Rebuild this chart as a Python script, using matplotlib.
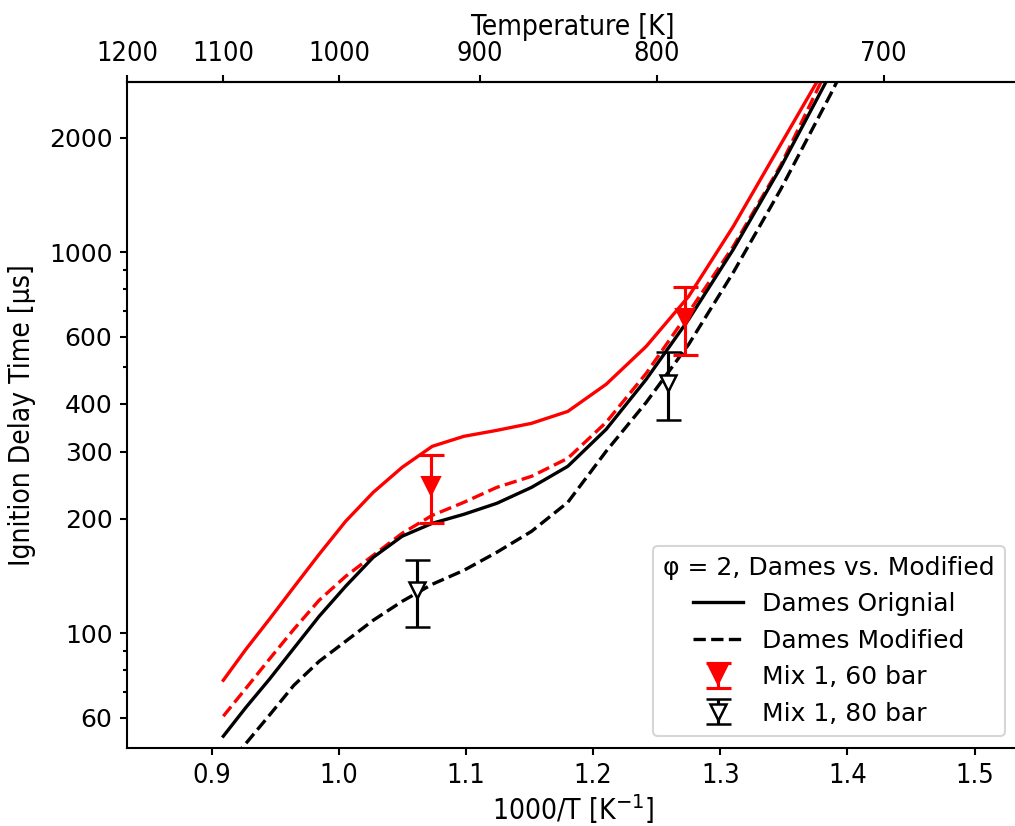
import matplotlib
matplotlib.use('Agg')
import matplotlib.pyplot as plt
from matplotlib import font_manager as fm
from matplotlib.lines import Line2D

# ---- data ----
temps_K = [1100.0, 1078.9, 1057.9, 1036.8, 1015.8, 994.7, 973.7, 952.6, 931.6, 910.5,
           889.5, 868.4, 847.4, 826.3, 805.3, 784.2, 763.2, 742.1, 721.1, 700.0]
dames_orig_60 = [75.3, 90.8, 108.8, 132.1, 161.2, 196.8, 234.4, 272.7, 309.6, 328.9,
                 341.0, 355.8, 382.4, 450.4, 566.6, 766.6, 1170, 1920, 3230, 5735]
dames_mod_60 = [60.6, 71.7, 85.5, 102.4, 122.1, 141.1, 160.2, 183.0, 204.0, 220.7,
                241.6, 258.3, 288.0, 357.9, 481.4, 695.8, 1037, 1692, 3153, 6166]
dames_orig_80 = [53.7, 63.9, 75.7, 91.3, 110.8, 132.9, 158.3, 179.8, 194.4, 205.3,
                 219.4, 241.6, 274.4, 343.0, 464.2, 667.1, 1018, 1671, 2950, 5399]
dames_mod_80 = [43.7, 51.4, 60.9, 73.0, 84.4, 95.3, 108.2, 121.3, 134.5, 146.3,
                163.2, 185.2, 220.7, 300.4, 403.9, 573.5, 886.0, 1463, 2598, 4931]

exp60_invT = [1.0728, 1.2720]
exp60_tau = [244, 674]
exp60_err = [49, 135]
exp80_invT = [1.0618, 1.2589]
exp80_tau = [130, 455]
exp80_err = [26, 91]

ytick_major = [60, 100, 200, 300, 400, 600, 1000, 2000]
ytick_minor = [70, 80, 90, 500, 700, 800, 900]
xtick_bottom = [0.9, 1.0, 1.1, 1.2, 1.3, 1.4, 1.5]
xtick_top = [1200, 1100, 1000, 900, 800, 700]

# ---- fonts ----
cond_path = None
for f in fm.fontManager.ttflist:
    base = f.fname.split('/')[-1]
    if base == 'DejaVuSansCondensed.ttf':
        cond_path = f.fname
        break
if cond_path:
    fp_tick = fm.FontProperties(fname=cond_path, size=13)
    fp_lab = fm.FontProperties(fname=cond_path, size=13.5)
else:
    fp_tick = fm.FontProperties(family='DejaVu Sans', stretch='condensed', size=13)
    fp_lab = fm.FontProperties(family='DejaVu Sans', stretch='condensed', size=13.5)

invT = [1000.0 / t for t in temps_K]

W, H = 1015, 826
fig = plt.figure(figsize=(W / 150, H / 150), dpi=150)
ax = fig.add_axes([127 / W, 1 - 748 / H, (1019 - 127) / W, (748 - 82) / H])

ax.plot(invT, dames_orig_60, color='red', lw=1.6)
ax.plot(invT, dames_mod_60, color='red', lw=1.6, ls='--')
ax.plot(invT, dames_orig_80, color='black', lw=1.6)
ax.plot(invT, dames_mod_80, color='black', lw=1.6, ls='--')

eb60 = ax.errorbar(exp60_invT, exp60_tau, yerr=exp60_err, fmt='v', color='red',
                   ms=8.5, capsize=6, elinewidth=1.5, capthick=1.5, zorder=5)
eb80 = ax.errorbar(exp80_invT, exp80_tau, yerr=exp80_err, fmt='v', color='black',
                   mfc='white', mec='black', ms=8, mew=1.2, capsize=6,
                   elinewidth=1.5, capthick=1.5, zorder=5)

ax.set_yscale('log')
ax.set_xlim(1000 / 1200, 1.535)
ax.set_ylim(50, 2800)

ax.set_yticks(ytick_major)
ax.set_yticklabels([str(v) for v in ytick_major], fontsize=12)
ax.set_yticks(ytick_minor, minor=True)
ax.set_yticklabels([''] * len(ytick_minor), minor=True)

ax.set_xticks(xtick_bottom)
ax.set_xticklabels(['%.1f' % v for v in xtick_bottom], fontproperties=fp_tick)

ax.set_xlabel('1000/T [K$^{-1}$]', fontproperties=fp_lab, labelpad=1.5)
ax.set_ylabel('Ignition Delay Time [\u03bcs]', fontproperties=fp_lab, labelpad=6)

for sp in ax.spines.values():
    sp.set_linewidth(1.0)
ax.tick_params(which='both', width=1.0)

secax = ax.secondary_xaxis('top', functions=(lambda x: 1000.0 / x, lambda x: 1000.0 / x))
secax.set_xticks(xtick_top)
secax.set_xticklabels([str(v) for v in xtick_top], fontproperties=fp_tick)
secax.set_xlabel('Temperature [K]', fontproperties=fp_lab, labelpad=3)
secax.spines['top'].set_linewidth(1.0)
secax.tick_params(width=1.0)

handles = [Line2D([], [], color='black', lw=1.6),
           Line2D([], [], color='black', lw=1.6, ls='--'),
           eb60, eb80]
labels = ['Dames Orignial', 'Dames Modified', 'Mix 1, 60 bar', 'Mix 1, 80 bar']
leg = ax.legend(handles, labels, loc='lower right', fontsize=12,
                title='\u03c6 = 2, Dames vs. Modified', title_fontsize=12,
                bbox_to_anchor=(1 - 2 / (1019 - 127), 0), bbox_transform=ax.transAxes)

fig.savefig('out.png', dpi=150)
